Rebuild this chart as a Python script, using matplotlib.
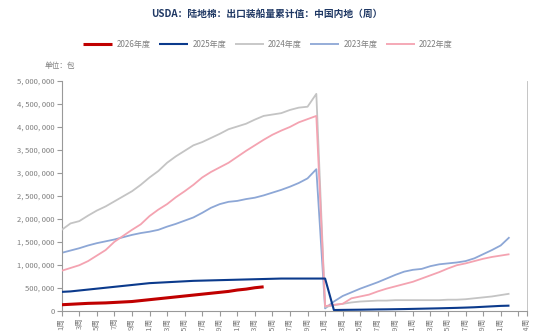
import matplotlib
matplotlib.use("Agg")
import matplotlib.pyplot as plt
import numpy as np

plt.rcParams['font.family'] = ['Noto Sans CJK SC', 'DejaVu Sans']

title = "USDA：陆地棉：出口装船量累计值：中国内地（周）"
unit_label = "单位：包"

weeks = list(range(1, 53))

# cumulative shipments to mainland China, bales, by calendar week
y2026 = [130000, 140000, 150000, 160000, 165000, 170000, 180000, 190000, 200000, 220000,
         240000, 260000, 280000, 300000, 320000, 340000, 360000, 380000, 400000, 420000,
         450000, 470000, 500000, 520000]

y2025 = [410000, 420000, 440000, 460000, 480000, 500000, 520000, 540000, 560000, 580000,
         600000, 610000, 620000, 630000, 640000, 650000, 655000, 660000, 665000, 670000,
         675000, 680000, 685000, 690000, 695000, 700000, 700000, 700000, 700000, 700000,
         700000, 15000, 18000, 20000, 22000, 25000, 28000, 30000, 33000, 36000,
         40000, 44000, 48000, 52000, 57000, 62000, 68000, 75000, 85000, 95000,
         105000, 110000]

y2024 = [1760000, 1900000, 1950000, 2070000, 2180000, 2270000, 2380000, 2490000, 2600000, 2740000,
         2900000, 3040000, 3220000, 3360000, 3480000, 3600000, 3670000, 3760000, 3850000, 3950000,
         4010000, 4070000, 4160000, 4240000, 4270000, 4300000, 4370000, 4420000, 4440000, 4720000,
         80000, 120000, 150000, 180000, 200000, 210000, 220000, 220000, 230000, 230000,
         230000, 230000, 230000, 230000, 240000, 240000, 250000, 270000, 290000, 310000,
         340000, 370000]

y2023 = [1260000, 1310000, 1360000, 1420000, 1470000, 1510000, 1550000, 1600000, 1650000, 1690000,
         1720000, 1760000, 1830000, 1890000, 1960000, 2030000, 2130000, 2240000, 2320000, 2370000,
         2390000, 2430000, 2460000, 2510000, 2570000, 2630000, 2700000, 2780000, 2880000, 3080000,
         50000, 200000, 320000, 400000, 480000, 550000, 620000, 700000, 780000, 850000,
         890000, 910000, 970000, 1010000, 1030000, 1050000, 1080000, 1140000, 1230000, 1320000,
         1420000, 1600000]

y2022 = [870000, 930000, 990000, 1080000, 1200000, 1320000, 1500000, 1630000, 1760000, 1880000,
         2060000, 2200000, 2320000, 2470000, 2600000, 2740000, 2900000, 3020000, 3120000, 3220000,
         3350000, 3480000, 3600000, 3720000, 3830000, 3920000, 4000000, 4100000, 4170000, 4240000,
         100000, 130000, 150000, 270000, 310000, 350000, 420000, 480000, 530000, 580000,
         630000, 700000, 770000, 840000, 920000, 990000, 1030000, 1080000, 1130000, 1170000,
         1200000, 1230000]

series_names = ["2026年度", "2025年度", "2024年度", "2023年度", "2022年度"]
series_values = [y2026, y2025, y2024, y2023, y2022]
colors = ["#C00000", "#0B3A8C", "#C4C4C4", "#8DA7D6", "#F4A3B1"]
widths = [2.2, 1.5, 1.3, 1.3, 1.3]
zorders = [6, 5, 3, 2, 4]

tick_weeks = list(range(1, 54, 2)) + [54]
tick_labels = [f"{w}周" for w in range(1, 52, 2)] + ["", "54周"]

gray = "#7F7F7F"

fig = plt.figure(figsize=(5.33, 3.31), dpi=100)
ax = fig.add_axes([0.1158, 0.0613, 0.873, 0.694])

handles = []
for name, vals, c, lw, z in zip(series_names, series_values, colors, widths, zorders):
    x = weeks[:len(vals)]
    h, = ax.plot(x, vals, color=c, lw=lw, label=name, zorder=z,
                 solid_capstyle="butt", solid_joinstyle="round")
    handles.append(h)

ax.set_xlim(1, 54)
ax.set_ylim(0, 5000000)
ax.set_yticks(np.arange(0, 5000001, 500000))
ax.set_yticklabels([f"{int(v):,}".replace(",", ", ") for v in np.arange(0, 5000001, 500000)])
ax.set_xticks(tick_weeks)
ax.set_xticklabels(tick_labels, rotation=90, va="top", ha="center")

ax.spines["top"].set_visible(False)
for s in ["left", "bottom"]:
    ax.spines[s].set_color("#999999")
    ax.spines[s].set_linewidth(0.8)
ax.spines["right"].set_color("#BBBBBB")
ax.spines["right"].set_linewidth(0.6)

ax.tick_params(axis="both", colors="#999999", labelcolor=gray, labelsize=5.5,
               length=3.5, width=0.8, direction="out")
ax.tick_params(axis="x", pad=1.5)
ax.tick_params(axis="y", pad=1.5)

fig.text(0.50, 0.958, title, ha="center", va="center", fontsize=7,
         fontweight="bold", color="#1F3864")
fig.text(0.113, 0.80, unit_label, ha="center", va="center", fontsize=5.5, color=gray)

fig.legend(handles=handles, labels=series_names, loc="center", ncol=5,
           bbox_to_anchor=(0.503, 0.867), frameon=False, fontsize=5.8,
           handlelength=3.6, handletextpad=0.5, columnspacing=1.1,
           labelcolor=gray)

fig.savefig("out.png", dpi=100)
